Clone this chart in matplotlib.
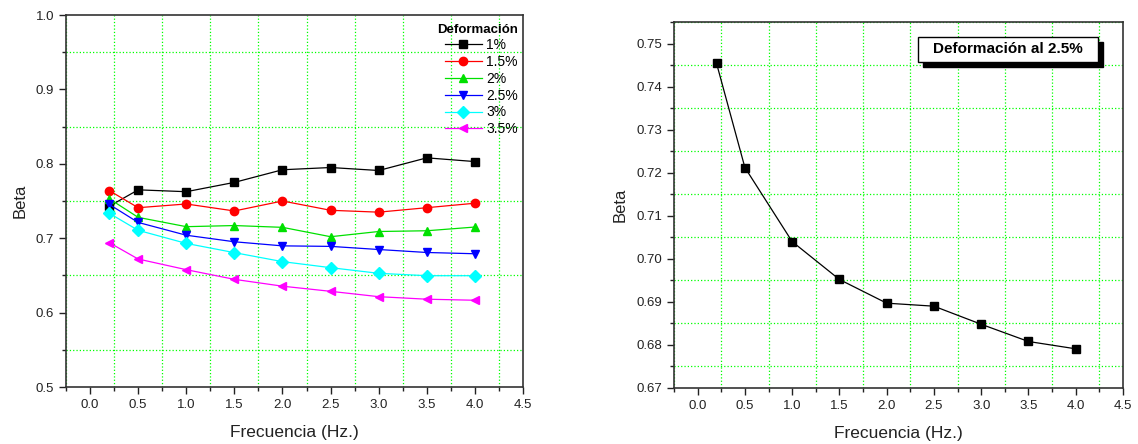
import matplotlib
matplotlib.use("Agg")
import matplotlib.pyplot as plt
from matplotlib.patches import Rectangle
from matplotlib.ticker import MultipleLocator, FormatStrFormatter

plt.rcParams['font.family'] = ['Liberation Sans', 'DejaVu Sans']

freq = [0.2, 0.5, 1.0, 1.5, 2.0, 2.5, 3.0, 3.5, 4.0]
beta_1 = [0.743, 0.765, 0.7625, 0.775, 0.792, 0.795, 0.791, 0.808, 0.803]
beta_15 = [0.764, 0.741, 0.746, 0.7366, 0.750, 0.7375, 0.735, 0.741, 0.747]
beta_2 = [0.753, 0.728, 0.7155, 0.717, 0.7146, 0.702, 0.709, 0.710, 0.715]
beta_25 = [0.7454, 0.7212, 0.7040, 0.6952, 0.6897, 0.6890, 0.6848, 0.6808, 0.6791]
beta_3 = [0.7335, 0.7106, 0.693, 0.6806, 0.6685, 0.6604, 0.6528, 0.6496, 0.6496]
beta_35 = [0.694, 0.672, 0.6577, 0.6447, 0.6355, 0.6286, 0.6214, 0.618, 0.6166]

series_labels = ['1%', '1.5%', '2%', '2.5%', '3%', '3.5%']
series_values = [beta_1, beta_15, beta_2, beta_25, beta_3, beta_35]
series_colors = ['black', '#ff0000', '#00e000', '#0000ff', '#00ffff', '#ff00ff']
series_markers = ['s', 'o', '^', 'v', 'D', '<']

fig = plt.figure(figsize=(11.38, 4.44), dpi=100)
ax1 = fig.add_axes([66/1138, 1-387/444, (523-66)/1138, (387-15)/444])
ax2 = fig.add_axes([674/1138, 1-388/444, (1123-674)/1138, (388-22)/444])


def style(ax, ymaj, ymin, fmt):
    ax.set_xlim(-0.25, 4.5)
    ax.xaxis.set_major_locator(MultipleLocator(0.5))
    ax.xaxis.set_minor_locator(MultipleLocator(0.25))
    ax.xaxis.set_major_formatter(FormatStrFormatter('%.1f'))
    ax.yaxis.set_major_locator(MultipleLocator(ymaj))
    ax.yaxis.set_minor_locator(MultipleLocator(ymin))
    ax.yaxis.set_major_formatter(FormatStrFormatter(fmt))
    ax.tick_params(which='major', direction='out', length=5, width=1, labelsize=9.5,
                   color='#222222', labelcolor='#222222')
    ax.tick_params(which='minor', direction='out', length=3, width=1, color='#222222')
    ax.grid(which='minor', color='#00ff00', linestyle=':', linewidth=0.9)
    ax.grid(which='major', visible=False)
    for s in ax.spines.values():
        s.set_linewidth(1.2)
        s.set_color('#333333')
    ax.set_xlabel('Frecuencia (Hz.)', fontsize=12.5, labelpad=10, color='#222222')
    ax.set_ylabel('Beta', fontsize=12, labelpad=6, color='#222222')


for lab, vals, col, mk in zip(series_labels, series_values, series_colors, series_markers):
    ax1.plot(freq, vals, color=col, marker=mk, markersize=6, linewidth=0.9,
             markeredgecolor=col, label=lab)
ax1.set_ylim(0.5, 1.0)
style(ax1, 0.1, 0.05, '%.1f')
leg = ax1.legend(title='Deformación', loc='upper right', frameon=False,
                 fontsize=10, title_fontsize=9.5, handlelength=2.7,
                 bbox_to_anchor=(1.0, 0.99),
                 borderaxespad=0.15, labelspacing=0.2, handletextpad=0.3,
                 borderpad=0.2)
leg.get_title().set_fontweight('bold')
leg._legend_box.align = 'right'

ax2.plot(freq, beta_25, color='black', marker='s', markersize=5.5, linewidth=0.9)
ax2.set_ylim(0.67, 0.755)
style(ax2, 0.01, 0.005, '%.2f')

bx0, bx1 = 0.543, 0.944
by0, by1 = 0.891, 0.959
dx, dy = 5/449, 5/366
ax2.add_patch(Rectangle((bx0 + dx, by0 - dy), bx1 - bx0, by1 - by0, transform=ax2.transAxes,
                        facecolor='black', edgecolor='black', zorder=5))
ax2.add_patch(Rectangle((bx0, by0), bx1 - bx0, by1 - by0, transform=ax2.transAxes,
                        facecolor='white', edgecolor='black', linewidth=1, zorder=6))
ax2.text((bx0 + bx1) / 2, (by0 + by1) / 2, 'Deformación al 2.5%', transform=ax2.transAxes,
         ha='center', va='center', fontsize=11, fontweight='bold', zorder=7)

fig.savefig('out.png', dpi=100)
